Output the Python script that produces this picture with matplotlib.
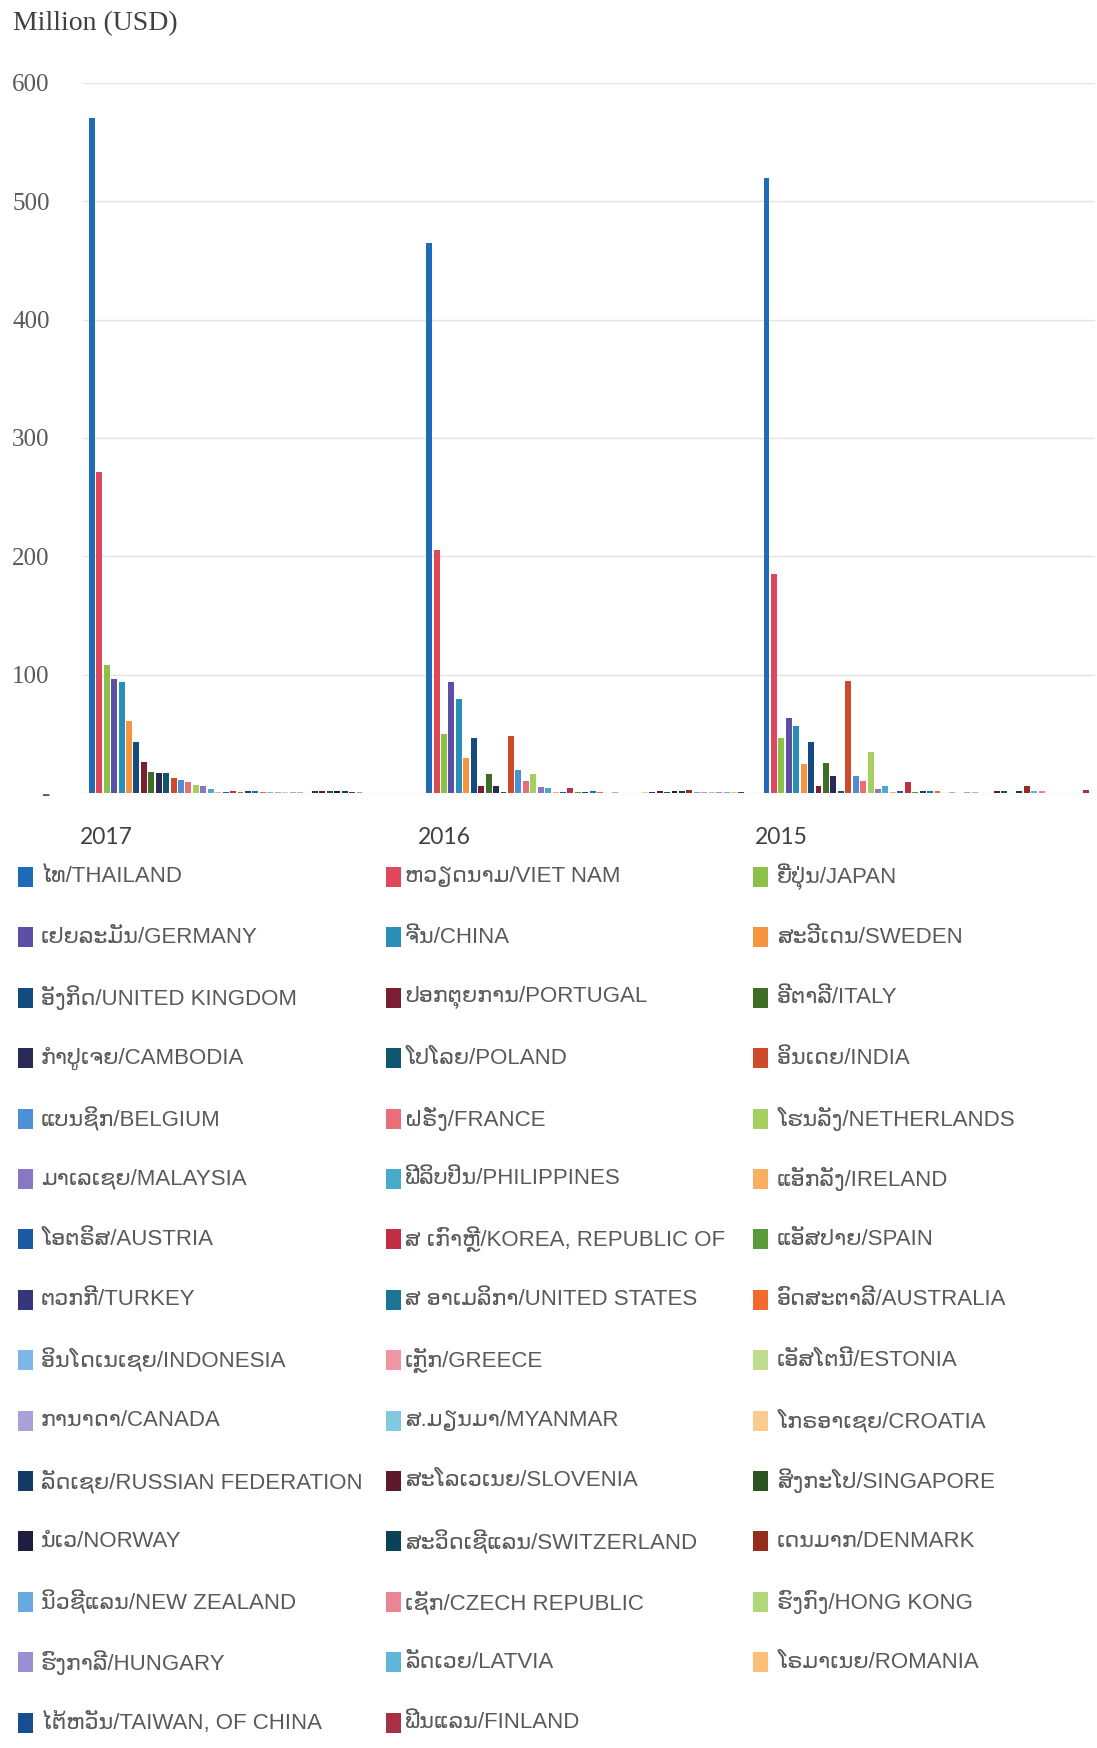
import numpy as np
import matplotlib
matplotlib.use("Agg")
import matplotlib.pyplot as plt
from matplotlib.patches import Rectangle

years = ["2017", "2016", "2015"]

countries = [
    "ໄທ/THAILAND", "ຫວຽດນາມ/VIET NAM", "ຍີ່ປຸ່ນ/JAPAN",
    "ເຢຍລະມັນ/GERMANY", "ຈີນ/CHINA", "ສະວີເດນ/SWEDEN",
    "ອັງກິດ/UNITED KINGDOM", "ປອກຕຸຍການ/PORTUGAL", "ອີຕາລີ/ITALY",
    "ກຳປູເຈຍ/CAMBODIA", "ໂປໂລຍ/POLAND", "ອິນເດຍ/INDIA",
    "ແບນຊິກ/BELGIUM", "ຝຣັ່ງ/FRANCE", "ໂຮນລັງ/NETHERLANDS",
    "ມາເລເຊຍ/MALAYSIA", "ຟີລິບປິນ/PHILIPPINES", "ແອັກລັງ/IRELAND",
    "ໂອຕຣິສ/AUSTRIA", "ສ ເກົາຫຼີ/KOREA, REPUBLIC OF", "ແອັສປາຍ/SPAIN",
    "ຕວກກີ/TURKEY", "ສ ອາເມລິກາ/UNITED STATES", "ອົດສະຕາລີ/AUSTRALIA",
    "ອິນໂດເນເຊຍ/INDONESIA", "ເກຼັກ/GREECE", "ເອັສໂຕນີ/ESTONIA",
    "ການາດາ/CANADA", "ສ.ມຽນມາ/MYANMAR", "ໂກຣອາເຊຍ/CROATIA",
    "ລັດເຊຍ/RUSSIAN FEDERATION", "ສະໂລເວເນຍ/SLOVENIA", "ສິງກະໂປ/SINGAPORE",
    "ນໍເວ/NORWAY", "ສະວິດເຊີແລນ/SWITZERLAND", "ເດນມາກ/DENMARK",
    "ນິວຊີແລນ/NEW ZEALAND", "ເຊັກ/CZECH REPUBLIC", "ຮົງກົງ/HONG KONG",
    "ຮົງກາລີ/HUNGARY", "ລັດເວຍ/LATVIA", "ໂຣມາເນຍ/ROMANIA",
    "ໄຕ້ຫວັນ/TAIWAN, OF CHINA", "ຟິນແລນ/FINLAND",
]

colors = [
    "#1E6CB8", "#E0475A", "#8DC049", "#5B4FA8", "#2A8FB8", "#F7943F",
    "#154C80", "#7A1F33", "#3E6E26", "#2A2A55", "#10566E", "#CF4A2A",
    "#4C8FD6", "#E86E78", "#A5D060", "#8878C4", "#4AAAC9", "#F9AE62",
    "#1B5BA3", "#BF2E42", "#5A9A38", "#35357A", "#1A7596", "#F26A2E",
    "#7FB6E8", "#EE97A2", "#BEDE8E", "#A9A2D6", "#7FCAE0", "#FBCB8E",
    "#143B66", "#5E1A2A", "#2B5420", "#1E1E40", "#0C4256", "#962C1E",
    "#6AA8E2", "#EA8691", "#B0D87A", "#9A8FD0", "#5FB6D6", "#FBBF78",
    "#174E91", "#A83044",
]

# million USD, one value per country in legend order
v2017 = [570, 271, 108, 96, 93.5, 61, 43, 26.5, 17.5, 16.5, 16.5, 13,
         11, 9, 7, 5.5, 3.5, 0.8, 1.2, 1.5, 1.2, 1.5, 1.8, 1.2,
         0.6, 1.0, 0.8, 0.6, 0.5, 0.4, 1.5, 1.8, 1.5, 1.8, 1.5, 1.2,
         0.5, 0, 0, 0, 0, 0, 0, 0]
v2016 = [465, 205, 50, 93.5, 79.5, 30, 46.5, 6, 16, 6, 1, 48,
         19.5, 10, 16, 5.3, 3.9, 0.8, 1, 4.2, 1, 0.5, 1.5, 1.2,
         0.3, 0.6, 0.3, 0.3, 0.3, 1.2, 1.2, 1.5, 1.2, 1.5, 1.5, 2.5,
         1, 1, 0.8, 0.6, 0.5, 0.8, 1.2, 0]
v2015 = [520, 185, 46.5, 63.5, 56.5, 24.5, 43, 6, 25.5, 14, 1.5, 95,
         14, 10, 35, 3.4, 6, 0.5, 1.5, 9, 1, 1.5, 1.5, 1.5,
         0, 1, 0, 0.5, 0.5, 0, 0, 1.5, 1.5, 0, 1.5, 6,
         1.5, 1.5, 0, 0, 0, 0, 0, 2.5]

yticks = [0, 100, 200, 300, 400, 500, 600]
yticklabels = ["-", "100", "200", "300", "400", "500", "600"]

W, H = 1097, 1748
fig = plt.figure(figsize=(W / 100, H / 100), dpi=100)
ax = fig.add_axes([83 / W, 1 - 793 / H, 1012 / W, 710 / H])

values = np.array([v2017, v2016, v2015])
n = len(countries)
step = 7.45 / 338
for i in range(n):
    xs = np.arange(len(years)) + (i - (n - 1) / 2) * step
    ax.bar(xs, values[:, i], width=step * 0.8, color=colors[i], linewidth=0)

ax.set_xlim(-0.5, 2.5)
ax.set_ylim(0, 600)
ax.set_yticks(yticks)
ax.set_yticklabels(yticklabels, family="Liberation Serif", fontsize=18, color="#595959")
ax.tick_params(axis="y", length=0, pad=24)
ax.set_xticks([])
ax.grid(axis="y", color="#E3E3E3", linewidth=1)
ax.set_axisbelow(True)
for s in ax.spines.values():
    s.set_visible(False)

for g, yr in enumerate(years):
    ax.text(g - 0.43, -0.063, yr, transform=ax.get_xaxis_transform(),
            ha="center", va="center", fontsize=16.5, family="Lato", color="#404040")

fig.text(13 / W, 1 - 24 / H, "Million (USD)", family="Liberation Serif",
         fontsize=20, color="#404040", ha="left", va="center")

# legend, three columns, filled row by row
col_box = [18, 386, 753]
col_txt = [41, 405, 777]
for k, name in enumerate(countries):
    r, c = divmod(k, 3)
    yc = 877 + r * 60.4
    fig.patches.append(Rectangle((col_box[c] / W, 1 - (yc + 10) / H), 15 / W, 20 / H,
                                 transform=fig.transFigure, color=colors[k], linewidth=0))
    fig.text(col_txt[c] / W, 1 - yc / H, name, family=["Liberation Sans", "DejaVu Sans"],
             fontsize=16, color="#595959", ha="left", va="center")

fig.savefig("out.png", dpi=100, facecolor="white")
